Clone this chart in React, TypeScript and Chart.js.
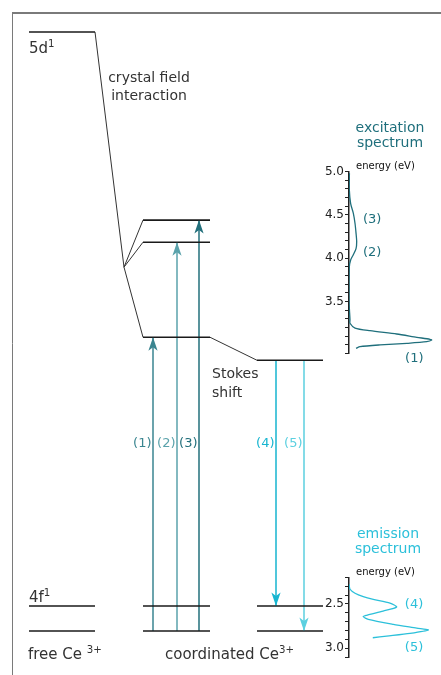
import React, { useEffect, useRef } from "react";
import { Chart, registerables } from "chart.js";

Chart.register(...registerables);

// ---------------- data ----------------
// energies in eV above the 4f ground state
const groundLevels = [0, 0.26]; // 4f1 (2F5/2, 2F7/2)
const free5dLevel = 6.24; // 5d1 of the free ion
const crystalFieldCentroid = 3.79; // 5d centroid in the crystal field
const coordinated5dLevels = [3.06, 4.05, 4.28];
const relaxed5dLevel = 2.82; // after Stokes shift
const excitationLabels = ["(1)", "(2)", "(3)"];
const emissionLabels = ["(4)", "(5)"];
const emissionTargets = [0.26, 0];

// excitation spectrum: energy (eV) vs. relative intensity
const excitationEnergy = [4.98, 4.79, 4.63, 4.52, 4.4, 4.29, 4.19, 4.11, 4.04, 3.98, 3.9, 3.52, 3.29, 3.25, 3.195, 3.164, 3.126, 3.088, 3.065, 3.056, 3.037, 3.018, 3.0, 2.98, 2.96];
const excitationIntensity = [0.005, 0.004, 0.02, 0.052, 0.073, 0.085, 0.093, 0.085, 0.052, 0.02, 0.004, 0.0, 0.012, 0.012, 0.073, 0.254, 0.577, 0.82, 0.98, 1.0, 0.94, 0.7, 0.375, 0.133, 0.085];
const excitationTickLabels = [3.5, 4.0, 4.5, 5.0];
const excitationPeakEnergy = [2.86, 4.08, 4.46];
const excitationPeakIntensity = [0.79, 0.28, 0.28];

// emission spectrum: energy (eV) vs. relative intensity
const emissionEnergy = [2.276, 2.333, 2.378, 2.416, 2.447, 2.49, 2.534, 2.58, 2.628, 2.643, 2.674, 2.73, 2.773, 2.795, 2.833, 2.864, 2.882];
const emissionIntensity = [0.0, 0.013, 0.076, 0.18, 0.306, 0.517, 0.6, 0.43, 0.223, 0.18, 0.243, 0.559, 0.854, 1.0, 0.77, 0.475, 0.3];
const emissionTickLabels = [2.5, 3.0];
const emissionPeakEnergy = [2.49, 2.97];
const emissionPeakIntensity = [0.82, 0.82];

// ---------------- layout / style ----------------
const W = 441;
const H = 675;
const PX_PER_EV = 96;
const GROUND_PX = 631;
const FONT = '"DejaVu Sans", Verdana, sans-serif';
const INK = "#333333";
const LEVEL = "#1a1a1a";
const COLS = { free: [29, 95], coord: [143, 210], relaxed: [257, 323] };
const CENTROID_X = 124;
const EXC_X = [153, 177, 199];
const EMI_X = [276, 304];
const EXC_COLORS = ["#3a8590", "#5aa2ab", "#226f7b"];
const EMI_COLORS = ["#17b5d0", "#5cd0e0"];
const EXC_SPEC = "#1f6f7c";
const EMI_SPEC = "#2cc0da";
const TRANSITION_LABEL_E = 1.97;

type Part = { t: string; sup?: boolean };

function drawRich(ctx: CanvasRenderingContext2D, parts: Part[], x: number, y: number, align: string, size: number, color: string) {
  ctx.save();
  ctx.fillStyle = color;
  ctx.textBaseline = "alphabetic";
  ctx.textAlign = "left";
  const supSize = size * 0.68;
  const widths = parts.map((p) => {
    ctx.font = `${p.sup ? supSize : size}px ${FONT}`;
    return ctx.measureText(p.t).width;
  });
  const total = widths.reduce((a, b) => a + b, 0);
  let cx = align === "left" ? x : align === "center" ? x - total / 2 : x - total;
  parts.forEach((p, i) => {
    ctx.font = `${p.sup ? supSize : size}px ${FONT}`;
    ctx.fillText(p.t, cx, p.sup ? y - size * 0.42 : y);
    cx += widths[i];
  });
  ctx.restore();
}

function seg(x1: number, y1: number, x2: number, y2: number, color: string, width: number, extra: any = {}) {
  return {
    data: [
      { x: x1, y: y1 },
      { x: x2, y: y2 },
    ],
    showLine: true,
    borderColor: color,
    borderWidth: width,
    pointRadius: 0,
    tension: 0,
    ...extra,
  };
}

function buildMainDatasets() {
  const ds: any[] = [];
  // free ion levels
  groundLevels.forEach((e) => ds.push(seg(COLS.free[0], e, COLS.free[1], e, LEVEL, 1.6)));
  ds.push(seg(COLS.free[0], free5dLevel, COLS.free[1], free5dLevel, LEVEL, 1.6));
  // coordinated levels
  groundLevels.forEach((e) => ds.push(seg(COLS.coord[0], e, COLS.coord[1], e, LEVEL, 1.6)));
  coordinated5dLevels.forEach((e) => ds.push(seg(COLS.coord[0], e, COLS.coord[1], e, LEVEL, 1.6)));
  // relaxed levels
  groundLevels.forEach((e) => ds.push(seg(COLS.relaxed[0], e, COLS.relaxed[1], e, LEVEL, 1.6)));
  ds.push(seg(COLS.relaxed[0], relaxed5dLevel, COLS.relaxed[1], relaxed5dLevel, LEVEL, 1.6));
  // crystal field connectors
  ds.push(seg(COLS.free[1], free5dLevel, CENTROID_X, crystalFieldCentroid, INK, 1));
  coordinated5dLevels.forEach((e) => ds.push(seg(CENTROID_X, crystalFieldCentroid, COLS.coord[0], e, INK, 1)));
  // Stokes shift connector
  ds.push(seg(COLS.coord[1], coordinated5dLevels[0], COLS.relaxed[0], relaxed5dLevel, INK, 1));
  // excitation arrows
  coordinated5dLevels.forEach((e, i) =>
    ds.push(seg(EXC_X[i], groundLevels[0], EXC_X[i], e, EXC_COLORS[i], 1.5, { arrow: true, label: excitationLabels[i] }))
  );
  // emission arrows
  emissionTargets.forEach((e, i) =>
    ds.push(seg(EMI_X[i], relaxed5dLevel, EMI_X[i], e, EMI_COLORS[i], 1.5, { arrow: true, label: emissionLabels[i] }))
  );
  return ds;
}

function drawArrowHead(ctx: CanvasRenderingContext2D, x: number, ty: number, dir: number, color: string) {
  const len = 13.5;
  const hw = 4.6;
  const notch = 3.5;
  const baseY = ty - dir * len;
  ctx.save();
  ctx.fillStyle = color;
  ctx.beginPath();
  ctx.moveTo(x, ty);
  ctx.lineTo(x - hw, baseY);
  ctx.lineTo(x, baseY + dir * notch);
  ctx.lineTo(x + hw, baseY);
  ctx.closePath();
  ctx.fill();
  ctx.restore();
}

const mainPlugin = {
  id: "mainDecor",
  afterDatasetsDraw(chart: any) {
    const ctx: CanvasRenderingContext2D = chart.ctx;
    const xs = chart.scales.x;
    const ys = chart.scales.y;
    const X = (v: number) => xs.getPixelForValue(v);
    const Y = (v: number) => ys.getPixelForValue(v);

    // frame
    ctx.save();
    ctx.strokeStyle = "#7a7a7a";
    ctx.lineWidth = 2;
    ctx.beginPath();
    ctx.moveTo(12, 13);
    ctx.lineTo(W, 13);
    ctx.stroke();
    ctx.lineWidth = 1;
    ctx.beginPath();
    ctx.moveTo(12.5, 12);
    ctx.lineTo(12.5, H);
    ctx.stroke();
    ctx.restore();

    // arrow heads and transition labels
    chart.data.datasets.forEach((d: any, i: number) => {
      if (!d.arrow) return;
      const meta = chart.getDatasetMeta(i);
      const p0 = meta.data[0];
      const p1 = meta.data[1];
      const dir = p1.y > p0.y ? 1 : -1;
      drawArrowHead(ctx, p1.x, p1.y, dir, d.borderColor);
      drawRich(ctx, [{ t: d.label }], p1.x - 1.5, Y(TRANSITION_LABEL_E) + 5, "right", 13, d.borderColor);
    });

    // texts
    const f5 = Y(free5dLevel);
    drawRich(ctx, [{ t: "5d" }, { t: "1", sup: true }], X(COLS.free[0]), f5 + 21, "left", 15, INK);
    drawRich(ctx, [{ t: "crystal field" }], X(149), f5 + 50, "center", 14, INK);
    drawRich(ctx, [{ t: "interaction" }], X(149), f5 + 68, "center", 14, INK);
    const g1 = Y(groundLevels[1]);
    drawRich(ctx, [{ t: "4f" }, { t: "1", sup: true }], X(COLS.free[0]), g1 - 4, "left", 15, INK);
    const g0 = Y(groundLevels[0]);
    drawRich(ctx, [{ t: "free Ce " }, { t: "3+", sup: true }], X(28), g0 + 28, "left", 15, INK);
    drawRich(ctx, [{ t: "coordinated Ce" }, { t: "3+", sup: true }], X(165), g0 + 28, "left", 15, INK);
    const r5 = Y(relaxed5dLevel);
    drawRich(ctx, [{ t: "Stokes" }], X(212), r5 + 18, "left", 14, INK);
    drawRich(ctx, [{ t: "shift" }], X(212), r5 + 37, "left", 14, INK);
  },
};

function mainConfig(): any {
  const evMax = GROUND_PX / PX_PER_EV;
  const evMin = -(H - GROUND_PX) / PX_PER_EV;
  return {
    type: "scatter",
    data: { datasets: buildMainDatasets() },
    options: {
      responsive: false,
      animation: false,
      events: [],
      layout: { padding: 0 },
      plugins: { legend: { display: false }, tooltip: { enabled: false } },
      scales: {
        x: { type: "linear", min: 0, max: W, display: false },
        y: { type: "linear", min: evMin, max: evMax, display: false },
      },
    },
    plugins: [mainPlugin],
  };
}

function spectrumConfig(o: any): any {
  const decor = {
    id: "specDecor",
    afterDatasetsDraw(chart: any) {
      const ctx: CanvasRenderingContext2D = chart.ctx;
      const a = chart.chartArea;
      const xs = chart.scales.x;
      const ys = chart.scales.y;
      const topPx = ys.getPixelForValue(o.reverse ? o.min : o.max);
      drawRich(ctx, [{ t: "energy (eV)" }], a.left + 7, topPx - 2.5, "left", 10, "#111");
      drawRich(ctx, [{ t: o.title[0] }], o.titleX, topPx - 40, "center", 14, o.color);
      drawRich(ctx, [{ t: o.title[1] }], o.titleX, topPx - 25, "center", 14, o.color);
      o.peakLabels.forEach((t: string, i: number) => {
        drawRich(ctx, [{ t }], xs.getPixelForValue(o.peakI[i]), ys.getPixelForValue(o.peakE[i]) + 5, "center", 13, o.color);
      });
    },
  };
  return {
    type: "scatter",
    data: {
      datasets: [
        {
          data: o.energy.map((e: number, i: number) => ({ x: o.intensity[i], y: e })),
          showLine: true,
          borderColor: o.color,
          borderWidth: 1.3,
          pointRadius: 0,
          tension: 0.25,
        },
      ],
    },
    options: {
      responsive: false,
      animation: false,
      events: [],
      layout: { padding: { top: o.padTop, bottom: o.padBottom, left: 0, right: 0 } },
      plugins: { legend: { display: false }, tooltip: { enabled: false } },
      scales: {
        x: { type: "linear", min: 0, max: o.xMax, display: false },
        y: {
          type: "linear",
          min: o.min,
          max: o.max,
          reverse: o.reverse,
          afterFit: (s: any) => {
            s.width = 49;
            s.paddingTop = 0;
            s.paddingBottom = 0;
          },
          ticks: {
            stepSize: 0.1,
            autoSkip: false,
            padding: 1,
            color: "#222",
            font: { family: FONT, size: 12 },
            callback: (v: number) => (o.ticks.some((t: number) => Math.abs(t - v) < 1e-6) ? Number(v).toFixed(1) : ""),
          },
          grid: { drawOnChartArea: false, tickLength: 4, color: "#222", lineWidth: 1 },
          border: { color: "#222", width: 1.5 },
        },
      },
    },
    plugins: [decor],
  };
}

export default function App() {
  const mainRef = useRef<HTMLCanvasElement>(null);
  const excRef = useRef<HTMLCanvasElement>(null);
  const emiRef = useRef<HTMLCanvasElement>(null);

  useEffect(() => {
    const charts = [
      new Chart(mainRef.current as HTMLCanvasElement, mainConfig()),
      new Chart(
        excRef.current as HTMLCanvasElement,
        spectrumConfig({
          energy: excitationEnergy,
          intensity: excitationIntensity,
          ticks: excitationTickLabels,
          peakLabels: excitationLabels,
          peakE: excitationPeakEnergy,
          peakI: excitationPeakIntensity,
          min: 2.9,
          max: 5.0,
          reverse: false,
          xMax: 1.1125,
          color: EXC_SPEC,
          title: ["excitation", "spectrum"],
          titleX: 90,
          padTop: 61.5,
          padBottom: 16.4,
        })
      ),
      new Chart(
        emiRef.current as HTMLCanvasElement,
        spectrumConfig({
          energy: emissionEnergy,
          intensity: emissionIntensity,
          ticks: emissionTickLabels,
          peakLabels: emissionLabels,
          peakE: emissionPeakEnergy,
          peakI: emissionPeakIntensity,
          min: 2.2,
          max: 3.1,
          reverse: true,
          xMax: 1.16,
          color: EMI_SPEC,
          title: ["emission", "spectrum"],
          titleX: 88,
          padTop: 62.5,
          padBottom: 18,
        })
      ),
    ];
    return () => charts.forEach((c) => c.destroy());
  }, []);

  return (
    <div style={{ position: "absolute", left: 0, top: 0, width: W, height: H, background: "#fff", overflow: "hidden" }}>
      <canvas ref={mainRef} width={W} height={H} style={{ position: "absolute", left: 0, top: 0 }} />
      <canvas ref={excRef} width={141} height={260} style={{ position: "absolute", left: 300, top: 110 }} />
      <canvas ref={emiRef} width={141} height={160} style={{ position: "absolute", left: 300, top: 515 }} />
    </div>
  );
}
